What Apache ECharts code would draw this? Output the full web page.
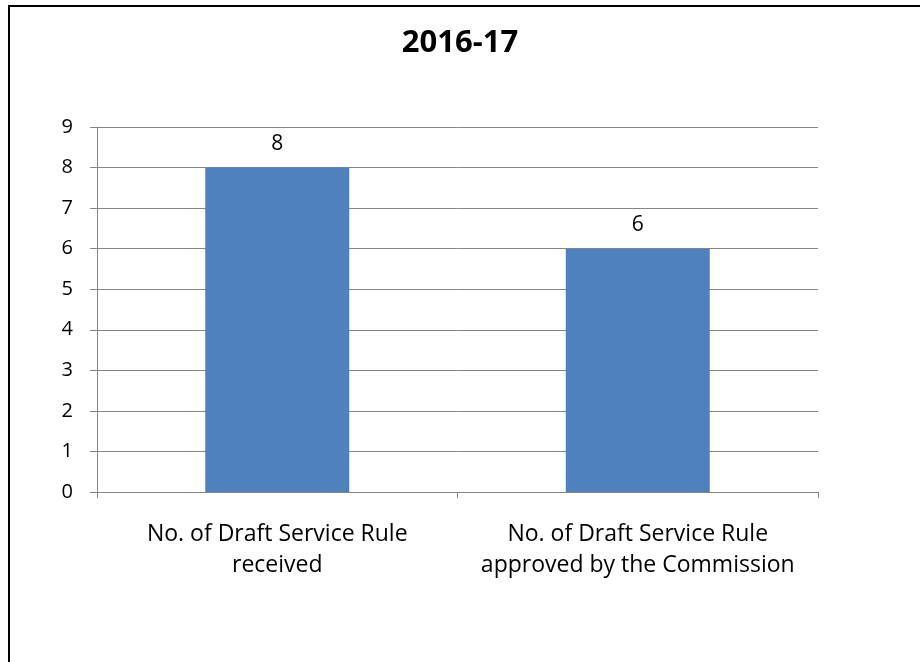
<!DOCTYPE html>
<html><head><meta charset="utf-8">
<script src="https://cdn.jsdelivr.net/npm/echarts@6/dist/echarts.min.js"></script>
<style>html,body{margin:0;padding:0;background:#fff}#c{width:920px;height:662px}</style>
</head><body><div id="c"></div>
<script>
const titleText = '2016-17';
const categories = ['No. of Draft Service Rule\nreceived', 'No. of Draft Service Rule\napproved by the Commission'];
const values = [8, 6];
const yTicks = [0, 9, 1];

const chart = echarts.init(document.getElementById('c'));
const font = '"Open Sans", "Liberation Sans", sans-serif';
chart.setOption({
  animation: false,
  backgroundColor: '#fff',
  title: {text: titleText, left: 'center', top: 23,
    textStyle: {fontFamily: font, fontSize: 31, fontWeight: 'bold', color: '#000'}},
  graphic: [{type: 'rect', shape: {x: 9, y: 6, width: 960, height: 700},
    style: {fill: 'none', stroke: '#000', lineWidth: 2}, silent: true}],
  grid: {left: 97, right: 102, top: 127, bottom: 170},
  xAxis: {type: 'category', data: categories,
    axisLine: {lineStyle: {color: '#868686'}},
    axisTick: {show: true, length: 6, lineStyle: {color: '#868686'}},
    axisLabel: {fontFamily: font, fontSize: 23, color: '#000', margin: 27, lineHeight: 31, interval: 0}},
  yAxis: {type: 'value', min: yTicks[0], max: yTicks[1], interval: yTicks[2],
    axisLine: {show: true, lineStyle: {color: '#868686'}},
    axisTick: {show: true, length: 7, lineStyle: {color: '#868686'}},
    splitLine: {lineStyle: {color: '#868686'}},
    axisLabel: {fontFamily: font, fontSize: 20, color: '#000', margin: 24}},
  series: [{type: 'bar', data: values, barWidth: 144,
    itemStyle: {color: '#4F81BD'},
    label: {show: true, position: 'top', distance: 13, fontFamily: font, fontSize: 21, color: '#000'}}]
});
</script></body></html>
